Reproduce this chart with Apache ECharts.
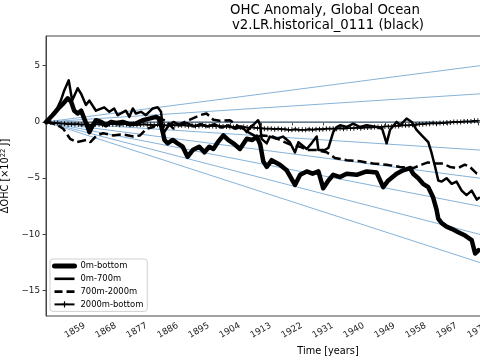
<!DOCTYPE html>
<html><head><meta charset="utf-8">
<script src="https://cdn.jsdelivr.net/npm/echarts@6/dist/echarts.min.js"></script>
<style>html,body{margin:0;padding:0;background:#fff}#c{width:480px;height:360px}</style>
</head><body><div id="c"></div><script>
// ---- data ----
const xTicks = [1859, 1868, 1877, 1886, 1895, 1904, 1913, 1922, 1931, 1940, 1949, 1958, 1967, 1976];
const yTicks = [-15, -10, -5, 0, 5];
const seriesNames = ['0m-bottom', '0m-700m', '700m-2000m', '2000m-bottom'];

// 0m-bottom  [year, ΔOHC]
const total = [[1850.6,0],[1852.5,0.6],[1854.5,1.3],[1855.5,1.6],[1856.9,2.1],[1857.9,1.8],[1858.8,1.0],[1859.8,0.75],[1860.8,1.0],[1861.7,0.3],[1862.7,-0.45],[1863.2,-0.9],[1864.2,-0.3],[1865.1,0.15],[1866.6,0],[1868,-0.3],[1869.5,0],[1871,-0.1],[1872.9,0],[1874.8,-0.2],[1876.7,-0.15],[1878.7,0.15],[1880.6,0.3],[1882.5,0.45],[1883.5,0.3],[1884.5,-0.9],[1885,-1.6],[1885.9,-1.9],[1887.4,-1.6],[1888.8,-1.9],[1890.3,-2.2],[1891.7,-3.1],[1893.2,-2.5],[1895.1,-2.2],[1896.6,-2.7],[1898,-2.2],[1899.2,-2.4],[1900.5,-1.8],[1902.1,-1.2],[1903.5,-1.6],[1905,-1.9],[1906.9,-2.4],[1908.9,-1.5],[1910.5,-1.6],[1911.8,-1.3],[1912.8,-2.0],[1913.7,-3.5],[1914.7,-4.0],[1916.1,-3.4],[1918.5,-3.8],[1920.5,-4.3],[1922.9,-5.6],[1924.4,-4.7],[1926.3,-4.4],[1928,-4.6],[1929.7,-4.4],[1931.1,-5.9],[1932.6,-5.2],[1934,-4.7],[1936,-4.9],[1937.9,-4.6],[1940.8,-4.7],[1943.7,-4.4],[1946.6,-4.5],[1948.5,-5.8],[1950,-5.2],[1952.4,-4.6],[1954.3,-4.3],[1956.3,-4.1],[1957.2,-4.6],[1958.7,-5.0],[1960.1,-5.5],[1961.6,-5.8],[1963,-6.7],[1964,-7.8],[1964.5,-8.6],[1965.5,-9.0],[1966.9,-9.3],[1968.4,-9.5],[1970.3,-9.8],[1972.3,-10.1],[1974.2,-10.5],[1975.2,-11.7],[1976.2,-11.4]];

// 0m-700m
const upper = [[1850.6,0],[1852.3,0.6],[1853.8,1.2],[1854.9,1.9],[1855.9,2.8],[1857.2,3.7],[1858.2,1.9],[1859.8,3.0],[1860.8,2.5],[1862.2,1.5],[1863.2,1.9],[1865.1,1.0],[1867.5,1.3],[1869,0.9],[1870.4,1.2],[1871.4,0.6],[1873.8,1.0],[1874.8,0.45],[1875.8,1.2],[1876.7,0.75],[1878.2,0.9],[1879.6,0.6],[1881.6,1.2],[1883,1.3],[1884,0.9],[1884.7,-1.0],[1886,-0.4],[1887.6,0],[1889.5,-0.3],[1891.5,-0.1],[1893.5,-0.4],[1895.5,-0.2],[1897.5,-0.4],[1899.5,-0.2],[1901.5,-0.5],[1903.5,-0.3],[1905.5,-0.6],[1907.5,-0.4],[1908.9,-0.9],[1909.8,-0.5],[1911,-0.2],[1912.2,0.15],[1912.8,-0.3],[1913.2,-1.5],[1914.7,-1.9],[1915.6,-1.3],[1917.6,-1.5],[1919.4,-1.3],[1921.4,-1.8],[1922.9,-2.7],[1923.9,-1.8],[1926.3,-2.4],[1927.7,-1.9],[1929.2,-1.3],[1929.7,-2.5],[1931.6,-2.5],[1932.6,-2.3],[1934,-0.9],[1935,-0.45],[1936,-0.3],[1937.9,-0.45],[1939.8,-0.15],[1941.8,-0.45],[1943.7,-0.3],[1946.6,-0.45],[1948.2,-0.6],[1949.5,-1.9],[1950.5,-0.7],[1952.4,0],[1953.4,-0.3],[1955.3,0.3],[1956.8,0],[1958.2,-0.7],[1959.7,-1.2],[1961.6,-1.8],[1962.6,-2.8],[1963.6,-4.0],[1964.5,-5.2],[1965.5,-5.3],[1966.9,-5.0],[1968.4,-5.5],[1969.8,-5.3],[1971.3,-6.1],[1972.7,-6.5],[1974.2,-6.1],[1975.7,-6.9],[1976.6,-6.7]];

// 700m-2000m
const middle = [[1850.6,0],[1853.5,-0.2],[1855.6,-0.6],[1857.6,-1.5],[1859.5,-1.8],[1861,-1.7],[1862.4,-1.6],[1863.5,-1.8],[1865.3,-1.2],[1867.2,-1.0],[1870.1,-1.2],[1873,-1.1],[1876,-1.3],[1877.9,-1.2],[1879.8,-0.6],[1881.8,-0.45],[1883.7,0.3],[1885.4,0.1],[1887.6,-0.6],[1889.5,-0.2],[1892.4,0.2],[1895.3,0.6],[1897.2,0.75],[1899.2,0.2],[1901.1,0.1],[1904,0.15],[1906,-0.3],[1907.8,-0.6],[1909.8,-1.0],[1911.6,-1.3],[1913.6,-1.2],[1916.5,-1.3],[1918.5,-1.6],[1921.4,-2.0],[1924.4,-2.2],[1926.3,-2.5],[1929.2,-2.5],[1932.1,-2.7],[1934.5,-3.2],[1937.9,-3.4],[1941.8,-3.5],[1945.6,-3.7],[1949.5,-3.8],[1953.4,-4.0],[1957.2,-4.1],[1959.7,-3.8],[1961.5,-3.6],[1963.5,-3.7],[1965.9,-3.7],[1967.9,-4.0],[1970.3,-4.1],[1972.2,-3.8],[1973.7,-4.0],[1975.7,-4.6],[1976.6,-4.7]];

// 2000m-bottom, yearly from 1851
const deepStart = 1851;
const deep = [0,-0.05,-0.1,-0.1,-0.15, -0.15,-0.2,-0.2,-0.2,-0.2,
  -0.25,-0.2,-0.25,-0.25,-0.2,-0.2,-0.25,-0.2,-0.2,-0.2,
  -0.2,-0.25,-0.2,-0.2,-0.25,-0.2,-0.25,-0.25,-0.2,-0.25,
  -0.25,-0.3,-0.25,-0.3,-0.3,-0.3,-0.25,-0.3,-0.3,-0.3,
  -0.3,-0.35,-0.3,-0.35,-0.35,-0.3,-0.35,-0.35,-0.35,-0.4,
  -0.35,-0.4,-0.4,-0.45,-0.45,-0.45,-0.5,-0.45,-0.5,-0.5,
  -0.5,-0.55,-0.55,-0.6,-0.6,-0.6,-0.65,-0.6,-0.65,-0.65,
  -0.7,-0.7,-0.65,-0.7,-0.7,-0.7,-0.65,-0.7,-0.65,-0.65,
  -0.65,-0.6,-0.6,-0.6,-0.6,-0.55,-0.6,-0.55,-0.55,-0.55,
  -0.5,-0.55,-0.5,-0.5,-0.5,-0.45,-0.45,-0.45,-0.4,-0.4,
  -0.4,-0.35,-0.35,-0.3,-0.3,-0.3,-0.25,-0.25,-0.2,-0.2,
  -0.15,-0.15,-0.1,-0.15,-0.1,-0.1,-0.05,-0.05,0,0,
  0,0.05,0.05,0.05,0.1,0.1];

// reference (constant-rate) lines: value reached at the right edge
const refStart = [1850.6, 0];
const refEndYear = 1976.6;
const refEnd = [5, 2.5, 0, -2.5, -5, -7.5, -10, -12.5];

// ---- chart ----
const X_MIN = 1850.6, X_MAX = 1977.2, Y_MIN = -17.25, Y_MAX = 7.64;
const FONT = 'DejaVu Sans';
const deepData = [[1850.6, 0]].concat(deep.map((v, i) => [deepStart + i, v]));
const plus = 'path://M-0.18,-1H0.18V-0.18H1V0.18H0.18V1H-0.18V0.18H-1V-0.18H-0.18Z';

const refSeries = refEnd.map(v => ({
  type: 'line', silent: true, symbol: 'none', z: 1,
  data: [refStart, [refEndYear, v]],
  lineStyle: v === 0 ? { color: '#7890a4', width: 1.6 } : { color: '#86b3d9', width: 1 }
}));

const chart = echarts.init(document.getElementById('c'), null, { renderer: 'canvas' });
chart.setOption({
  animation: false,
  backgroundColor: '#fff',
  textStyle: { fontFamily: FONT },
  title: [
    { text: 'OHC Anomaly, Global Ocean', left: 230, top: 4, padding: 0,
      textStyle: { fontFamily: FONT, fontSize: 13.3, fontWeight: 'normal', color: '#000' } },
    { text: 'v2.LR.historical_0111 (black)', left: 232, top: 19, padding: 0,
      textStyle: { fontFamily: FONT, fontSize: 13.3, fontWeight: 'normal', color: '#000' } }
  ],
  grid: { left: 46, right: -2, top: 36, bottom: 44, outerBoundsMode: 'none', containLabel: false,
    show: true, borderColor: '#444', borderWidth: 1, backgroundColor: 'transparent' },
  legend: {
    data: [
      { name: seriesNames[0], itemStyle: { opacity: 0 }, lineStyle: { width: 5 } },
      { name: seriesNames[1], itemStyle: { opacity: 0 }, lineStyle: { width: 2.6 } },
      { name: seriesNames[2], itemStyle: { opacity: 0 }, lineStyle: { width: 2.6, type: [8, 4] } },
      { name: seriesNames[3], lineStyle: { width: 2 } }
    ],
    orient: 'vertical', left: 50, top: 259,
    itemWidth: 20, itemHeight: 8, itemGap: 4.8, padding: [3, 4, 3, 2],
    backgroundColor: '#fff', borderColor: '#d0d0d0', borderWidth: 1, borderRadius: 3,
    textStyle: { fontFamily: FONT, fontSize: 8.4, color: '#000', padding: [0, 0, 0, 1] }
  },
  xAxis: {
    type: 'value', min: X_MIN, max: X_MAX,
    name: 'Time [years]', nameLocation: 'middle', nameGap: 27,
    nameTextStyle: { fontFamily: FONT, fontSize: 9.75, color: '#000', padding: [0, 0, 0, 128] },
    axisLine: { show: true, lineStyle: { color: '#444', width: 1 } },
    axisTick: { show: true, length: 3.5, customValues: xTicks, lineStyle: { color: '#444' } },
    axisLabel: { customValues: xTicks, rotate: 30, align: 'center', verticalAlign: 'middle', margin: 14.5,
      fontFamily: FONT, fontSize: 8.8, color: '#222', hideOverlap: false, formatter: v => String(v) },
    splitLine: { show: false }
  },
  yAxis: {
    type: 'value', min: Y_MIN, max: Y_MAX,
    name: '{a|ΔOHC [×10}{s|22}{a| J]}', nameLocation: 'middle', nameGap: 31,
    nameTextStyle: { fontFamily: FONT, fontSize: 9.75, color: '#000',
      rich: { a: { fontFamily: FONT, fontSize: 9.75, color: '#000' },
              s: { fontFamily: FONT, fontSize: 6.8, color: '#000', verticalAlign: 'bottom', padding: [0, 0, 5, 0] } } },
    axisLine: { show: true, lineStyle: { color: '#444', width: 1 } },
    axisTick: { show: true, length: 3.5, customValues: yTicks, lineStyle: { color: '#444' } },
    axisLabel: { customValues: yTicks, margin: 6, fontFamily: FONT, fontSize: 8.8, color: '#222',
      formatter: v => String(v).replace('-', '\u2212') },
    splitLine: { show: false }
  },
  series: refSeries.concat([
    { name: seriesNames[0], type: 'line', data: total, symbol: 'none', z: 5,
      lineStyle: { color: '#000', width: 4.5, join: 'round', cap: 'round' }, itemStyle: { color: '#000' } },
    { name: seriesNames[1], type: 'line', data: upper, symbol: 'none', z: 5,
      lineStyle: { color: '#000', width: 2.5, join: 'round' }, itemStyle: { color: '#000' } },
    { name: seriesNames[2], type: 'line', data: middle, symbol: 'none', z: 5,
      lineStyle: { color: '#000', width: 2.5, type: [9, 4] }, itemStyle: { color: '#000' } },
    { name: seriesNames[3], type: 'line', data: deepData, symbol: plus, symbolSize: 5, showAllSymbol: true, z: 5,
      lineStyle: { color: '#000', width: 1.8 }, itemStyle: { color: '#000' } }
  ])
});
</script></body></html>
